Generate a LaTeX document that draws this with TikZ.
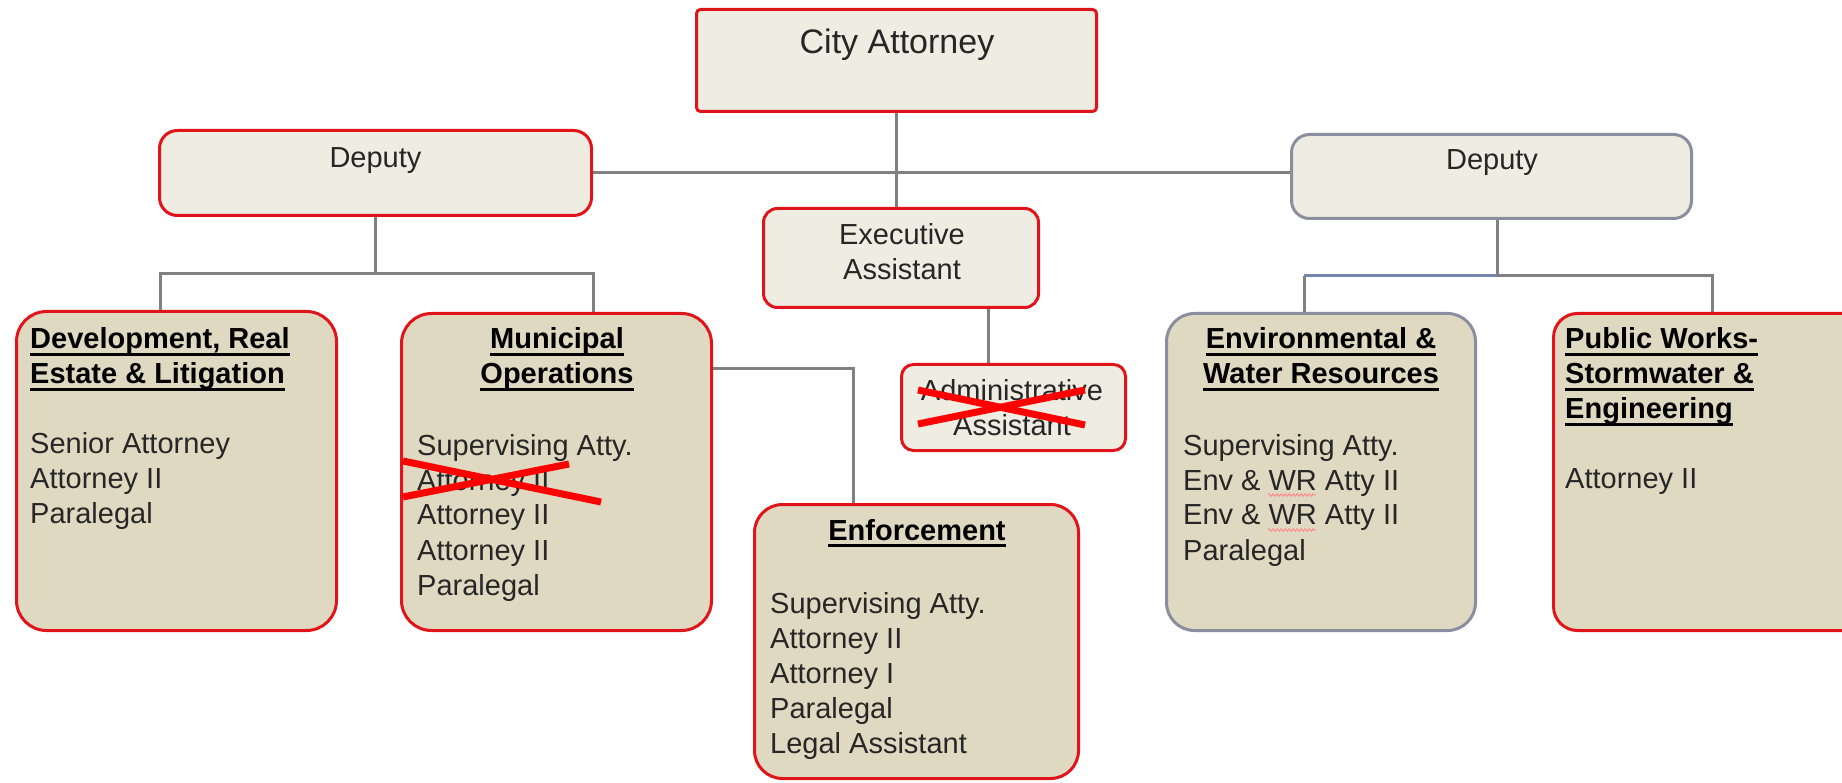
\documentclass[tikz,border=0pt]{standalone}
\usepackage{fontspec}
\setmainfont{Liberation Sans}
\usetikzlibrary{decorations.pathmorphing,backgrounds}
\definecolor{cream}{HTML}{EFEDE1}
\definecolor{tan}{HTML}{DFD9C2}
\definecolor{bred}{HTML}{E0141A}
\definecolor{bgray}{HTML}{8A8FA0}
\definecolor{lgray}{HTML}{808080}
\definecolor{lblue}{HTML}{7584B0}
\definecolor{txt}{HTML}{262626}
\newcommand\ulx[1]{\leavevmode\setbox0\hbox{#1}\rlap{\rule[-7pt]{\wd0}{3pt}}\box0}
\newcommand\bodyfont{\fontsize{29pt}{35pt}\selectfont}
\newcommand\cafont{\fontsize{34pt}{40pt}\selectfont}
\newcommand\blk[2]{\vtop{\hsize=#1\relax\parindent=0pt\parskip=0pt\baselineskip=35pt #2\par}}
\tikzset{
  box/.style={draw=bred, line width=3pt, inner sep=0pt},
  topbox/.style={box, fill=cream},
  subbox/.style={box, fill=tan},
  conn/.style={draw=lgray, line width=3pt},
  xm/.style={draw=red, line width=7pt},
  lbl/.style={inner sep=0pt, text=txt, font=\bodyfont},
  squig/.style={draw=red!45, line width=1pt, decorate, decoration={snake, amplitude=1.2pt, segment length=4pt}}
}
\begin{document}
\begin{tikzpicture}[x=1pt,y=-1pt]
\useasboundingbox (0,0) rectangle (1842,783);
\clip (0,0) rectangle (1842,783);
\begin{scope}[on background layer]
\fill[white] (0,0) rectangle (1842,783);
\end{scope}

% boxes
\node[topbox, rounded corners=4pt, minimum width=400pt, minimum height=102pt] (ca) at (896.5,60.5) {};
\node[topbox, rounded corners=18pt, minimum width=432pt, minimum height=85pt] (depL) at (375.5,173) {};
\node[topbox, draw=bgray, rounded corners=18pt, minimum width=400pt, minimum height=84pt] (depR) at (1491.5,176.5) {};
\node[topbox, rounded corners=14pt, minimum width=275pt, minimum height=99pt] (exec) at (901,258) {};
\node[topbox, rounded corners=12pt, minimum width=224pt, minimum height=86pt] (admin) at (1013.5,407.5) {};
\node[subbox, rounded corners=30pt, minimum width=320pt, minimum height=319pt] (dev) at (176.5,471) {};
\node[subbox, rounded corners=30pt, minimum width=310pt, minimum height=317pt] (mun) at (556.5,472) {};
\node[subbox, rounded corners=28pt, minimum width=324pt, minimum height=274pt] (enf) at (916.5,641.5) {};
\node[subbox, draw=bgray, rounded corners=28pt, minimum width=309pt, minimum height=317pt] (env) at (1321,472) {};
\node[subbox, rounded corners=24pt, minimum width=345pt, minimum height=317pt] (pub) at (1726,472) {};

% connectors
\coordinate (jL) at (375.5,274);
\coordinate (jL1) at (160,274);
\coordinate (jL2) at (593,274);
\coordinate (me) at (853,369);
\coordinate (ea) at (988,0);
\coordinate (jR) at (1497,276);
\coordinate (jR1) at (1304,276);
\coordinate (jR2) at (1712,276);
\begin{scope}[on background layer]
\draw[conn] (ca.south) -- (ca.south |- exec.north);
\draw[conn] (depL.east) -- (depL.east -| depR.west);
\draw[conn] (depL.south) -- (jL);
\draw[conn] (jL1 |- dev.north) -- (jL1) -- (jL2) -- (jL2 |- mun.north);
\draw[conn] (mun.east |- me) -- (me) -- (me |- enf.north);
\draw[conn] (ea |- exec.south) -- (ea |- admin.north);
\draw[conn] (jR |- depR.south) -- (jR);
\draw[conn, draw=lblue] (jR) -- (jR1);
\draw[conn] (jR1) -- (jR1 |- env.north);
\draw[conn] (jR) -- (jR2) -- (jR2 |- pub.north);
\end{scope}

% texts
\node[lbl, font=\cafont, anchor=base] (tca) at (897,54) {City Attorney};
\node[lbl, anchor=base] (tdl) at (375.5,168) {Deputy};
\node[lbl, anchor=base] (tdr) at (1492,170) {Deputy};
\node[lbl, anchor=base] (tex) at (902,245) {\blk{300pt}{\centering Executive\par Assistant}};
\node[lbl, anchor=base] (tad) at (1012,401) {\blk{300pt}{\centering Administrative\par Assistant}};

\node[lbl, anchor=base west] (tdev) at (30,349) {\blk{320pt}{\raggedright\leavevmode{\bfseries\color{black}\ulx{Development, Real}\par\ulx{Estate \& Litigation}\par}\mbox{}\par Senior Attorney\par Attorney II\par Paralegal}};

\node[lbl, anchor=base, text=black] (tmunh) at (557,349) {\blk{300pt}{\centering\bfseries\ulx{Municipal}\par\ulx{Operations}}};
\node[lbl, anchor=base west] (tmun) at (417,455) {\blk{290pt}{\raggedright Supervising Atty.\par Attorney II\par Attorney II\par Attorney II\par Paralegal}};

\node[lbl, anchor=base, text=black] (tenfh) at (917,540) {\blk{300pt}{\centering\bfseries\ulx{Enforcement}}};
\node[lbl, anchor=base west] (tenf) at (770,613) {\blk{300pt}{\raggedright Supervising Atty.\par Attorney II\par Attorney I\par Paralegal\par Legal Assistant}};

\node[lbl, anchor=base, text=black] (tenvh) at (1321,349) {\blk{300pt}{\centering\bfseries\ulx{Environmental \&}\par\ulx{Water Resources}}};
\node[lbl, anchor=base west] (tenv) at (1183,455) {\blk{290pt}{\raggedright Supervising Atty.\par Env \& WR Atty II\par Env \& WR Atty II\par Paralegal}};

\node[lbl, anchor=base west] (tpub) at (1565,349) {\blk{280pt}{\raggedright\leavevmode{\bfseries\color{black}\ulx{Public Works-}\par\ulx{Stormwater \&}\par\ulx{Engineering}\par}\mbox{}\par Attorney II}};

% spell-check squiggles
\draw[squig] (1268,495) -- (1316,495);
\draw[squig] (1268,530) -- (1316,530);

% crosses
\draw[xm] (403,461) -- (601,502);
\draw[xm] (403,497) -- (569,464);
\draw[xm] (918,390) -- (1085,425);
\draw[xm] (918,424) -- (1085,390);
\end{tikzpicture}
\end{document}
